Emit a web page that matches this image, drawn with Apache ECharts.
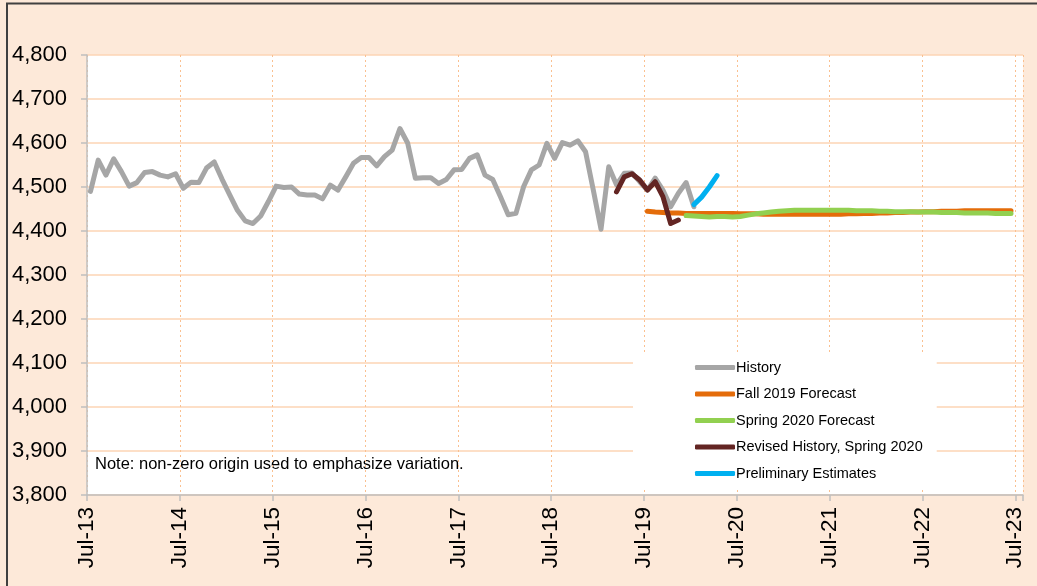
<!DOCTYPE html>
<html><head><meta charset="utf-8">
<script src="https://cdn.jsdelivr.net/npm/echarts@6/dist/echarts.min.js"></script>
<style>html,body{margin:0;padding:0;background:#FDE9D9;}#c{width:1037px;height:586px;}</style>
</head><body><div id="c"></div>
<script>
// Monthly data; month index 0 = Jul-2013
const yTicks = [3800, 4800, 100];
const xTickLabelPrefix = 'Jul-';
const seriesNames = ['History', 'Fall 2019 Forecast', 'Spring 2020 Forecast', 'Revised History, Spring 2020', 'Preliminary Estimates'];

const historyStart = 0;
const history = [4490,4561,4527,4564,4535,4502,4510,4533,4535,4527,4523,4530,
  4497,4511,4510,4543,4557,4518,4482,4447,4423,4417,4434,4467,
  4502,4499,4500,4484,4482,4482,4473,4504,4493,4523,4554,4567,
  4567,4548,4569,4584,4633,4600,4520,4521,4521,4508,4517,4539,
  4540,4565,4573,4527,4517,4478,4437,4440,4501,4539,4550,4599,
  4565,4601,4595,4605,4580,4493,4404,4546,4505,4531,4532,4512,
  4493,4520,4493,4455,4486,4510,4455];

const fall2019Start = 72;
const fall2019 = [4445,4443,4442,4441,4441,4440,4440,4440,4440,4440,4440,4440,
  4439,4439,4439,4438,4438,4438,4438,4438,4438,4438,4438,4438,
  4438,4438,4439,4439,4440,4440,4441,4441,4442,4442,4443,4443,
  4444,4444,4445,4445,4445,4446,4446,4446,4446,4446,4446,4446];

const spring2020Start = 77;
const spring2020 = [4435,4434,4433,4432,4433,4433,4432,
  4433,4436,4439,4441,4443,4445,4446,4447,4447,4447,4447,4447,
  4447,4447,4447,4446,4446,4446,4445,4445,4444,4444,4444,4443,
  4443,4443,4442,4442,4442,4441,4441,4441,4441,4440,4440,4440];

const revisedStart = 68;
const revised = [4489,4523,4530,4516,4493,4512,4478,4417,4425];

const prelimStart = 78;
const prelim = [4460,4477,4500,4526];

const noteText = 'Note: non-zero origin used to emphasize variation.';

// points sit mid-month relative to the month tick
const MID = 0.45;
function toPts(start, arr){ return arr.map((v,k)=>[start+k+MID, v]); }

const colors = ['#A6A6A6','#E46C0A','#92D050','#632523','#00B0F0'];
const starts = [historyStart, fall2019Start, spring2020Start, revisedStart, prelimStart];
const vals = [history, fall2019, spring2020, revised, prelim];

const FONT = '"Liberation Sans", Arial, sans-serif';
const chart = echarts.init(document.getElementById('c'), null, {renderer:'canvas'});
chart.setOption({
  backgroundColor: '#FDE9D9',
  animation: false,
  grid: {left: 87, right: 14, top: 55, bottom: 91, show: true, backgroundColor: '#FFFFFF', borderWidth: 0},
  xAxis: {
    type: 'value', min: 0, max: 121, interval: 12,
    axisLine: {show: true, onZero: false, lineStyle: {color: '#BFBFBF', width: 1.5}},
    axisTick: {show: true, length: 6, lineStyle: {color: '#BFBFBF', width: 1.5}},
    axisLabel: {rotate: 90, margin: 12, fontSize: 22.5, color: '#000', fontFamily: FONT,
      formatter: v => (v % 12 === 0) ? xTickLabelPrefix + String(13 + v/12).padStart(2,'0') : ''},
    splitLine: {show: true, lineStyle: {color: '#FAC090', type: [2,3], width: 1}}
  },
  yAxis: {
    type: 'value', min: yTicks[0], max: yTicks[1], interval: yTicks[2],
    axisLine: {show: true, lineStyle: {color: '#BFBFBF', width: 1.5}},
    axisTick: {show: true, length: 6, lineStyle: {color: '#BFBFBF', width: 1.5}},
    axisLabel: {margin: 20, fontSize: 22, color: '#000', fontFamily: FONT,
      formatter: v => v.toLocaleString('en-US')},
    splitLine: {show: true, lineStyle: {color: '#FCD5B4', width: 1.5}}
  },
  legend: {
    orient: 'vertical', left: 633, top: 352,
    padding: [8, 14, 8, 62],
    backgroundColor: '#FFFFFF',
    icon: 'roundRect',
    itemWidth: 40, itemHeight: 5, itemGap: 11.5,
    textStyle: {fontSize: 14.5, color: '#000', fontFamily: FONT, padding: [0,0,0,-4]},
    data: seriesNames
  },
  graphic: [
    {type: 'text', left: 95, top: 456,
     style: {text: noteText, fontSize: 16.5, fill: '#000', fontFamily: FONT}},
    {type: 'polyline', silent: true,
     shape: {points: [[7, 586], [7, 3.5], [1037, 3.5]]},
     style: {stroke: '#404040', lineWidth: 2, fill: null}}
  ],
  series: seriesNames.map((n,i)=>({
    name: n, type: 'line', data: toPts(starts[i], vals[i]),
    showSymbol: false, symbol: 'none', color: colors[i],
    lineStyle: {color: colors[i], width: 5, cap: 'round', join: 'round'},
    z: 3 + i
  }))
});
</script></body></html>
